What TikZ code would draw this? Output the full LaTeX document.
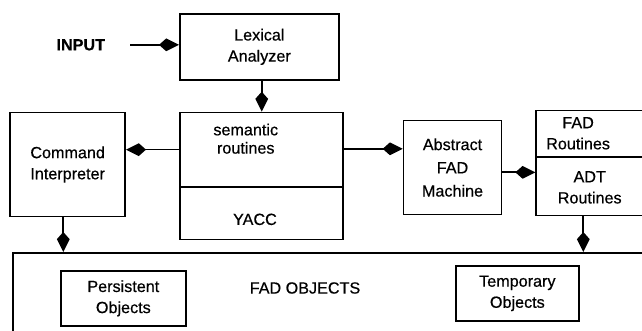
\documentclass[tikz,border=0pt]{standalone}
\usepackage{fontspec}
\setmainfont{Liberation Sans}[FakeBold=0.5]
\usepackage{tikz}
\usetikzlibrary{positioning, arrows.meta}

\begin{document}
\begin{tikzpicture}[node distance=1cm, every node/.style={font=\fontsize{11.5}{15}\selectfont}, align=center,
    box/.style={rectangle, draw, line width=1.2pt, inner sep=2pt},
    arr/.style={-{Kite[length=0.5cm, width=0.32cm, inset=0.18cm]}, line width=1.2pt}]
    \useasboundingbox (0,0) rectangle (16.05,-8.25);
    \clip (0,0) rectangle (16.05,-8.25);
    % Front end
    \node[box, minimum width=3.975cm, minimum height=1.65cm, anchor=north west] (lex) at (4.475,-0.325) {Lexical\\Analyzer};
    \node[font=\fontsize{11.5}{15}\selectfont\bfseries, left=1.725cm of lex.west, yshift=0.05cm] (inp) {INPUT};
    \node[box, minimum width=4.075cm, minimum height=3.175cm, below=0.775cm of lex.south west, anchor=north west] (sem) {};
    \node[font=\fontsize{11.5}{13}\selectfont] (semtxt) at ([xshift=-0.39cm, yshift=-0.675cm]sem.north) {semantic\\routines};
    \node (yacc) at ([xshift=-0.16cm, yshift=0.525cm]sem.south) {YACC};
    \draw[line width=1.2pt] ([yshift=-1.875cm]sem.north west) -- ([yshift=-1.875cm]sem.north east);
    % Side and back end
    \node[box, minimum width=2.875cm, minimum height=2.6cm, left=1.325cm of sem.north west, anchor=north east] (cmd) {Command\\Interpreter};
    \node[box, font=\fontsize{11.5}{16.5}\selectfont, minimum width=2.45cm, minimum height=2.35cm, right=1.475cm of sem.north east, anchor=north west, yshift=-0.2cm] (afm) {Abstract\\FAD\\Machine};
    \node[box, minimum width=2.675cm, minimum height=2.625cm, right=0.825cm of afm.north east, anchor=north west, yshift=0.25cm] (rtn) {};
    \node (fadtxt) at ([xshift=-0.29cm, yshift=-0.59cm]rtn.north) {FAD\\Routines};
    \node (adttxt) at ([yshift=0.725cm]rtn.south) {ADT\\Routines};
    \draw[line width=1.2pt] ([yshift=-1.175cm]rtn.north west) -- ([yshift=-1.175cm]rtn.north east);
    % Object store
    \node[box, minimum width=17cm, minimum height=3cm, anchor=north west] (obj) at (0.3,-6.3) {};
    \node (objtxt) at (7.625,-7.2) {FAD OBJECTS};
    \node[box, minimum width=3.125cm, minimum height=1.375cm, below right=0.45cm and 1.2cm of obj.north west] (pers) {Persistent\\Objects};
    \node[box, minimum width=3.075cm, minimum height=1.375cm, below right=0.325cm and 11.075cm of obj.north west] (temp) {Temporary\\Objects};
    % Connections
    \draw[arr, shorten <=0.5cm] (inp) -- (inp -| lex.west);
    \draw[arr] ([xshift=0.06cm]lex.south) -- ([xshift=0.06cm]lex.south |- sem.north);
    \draw[arr] ([yshift=0.66cm]sem.west) -- ([yshift=0.66cm]sem.west -| cmd.east);
    \draw[arr] ([yshift=0.68cm]sem.east) -- ([yshift=0.68cm]sem.east -| afm.west);
    \draw[arr] ([yshift=-0.12cm]afm.east) -- ([yshift=-0.12cm]afm.east -| rtn.west);
    \draw[arr] ([xshift=-0.11cm]cmd.south) -- ([xshift=-0.11cm]cmd.south |- obj.north);
    \draw[arr] ([xshift=-0.16cm]rtn.south) -- ([xshift=-0.16cm]rtn.south |- obj.north);
\end{tikzpicture}
\end{document}
